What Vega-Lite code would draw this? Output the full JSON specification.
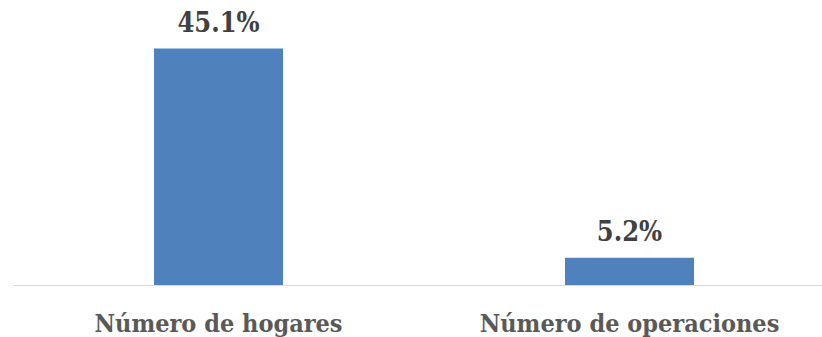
{
  "$schema": "https://vega.github.io/schema/vega-lite/v6.json",
  "autosize": {"type": "none"},
  "padding": {"left": 13, "top": 0, "right": 0, "bottom": 52},
  "width": 822,
  "height": 285,
  "background": "white",
  "config": {"view": {"stroke": null}},
  "data": {"values": [
    {"categoria": "Número de hogares", "valor": 45.1, "etiqueta": "45.1%"},
    {"categoria": "Número de operaciones", "valor": 5.2, "etiqueta": "5.2%"}
  ]},
  "encoding": {
    "x": {
      "field": "categoria", "type": "nominal", "sort": null,
      "scale": {"paddingInner": 0.686, "paddingOuter": 0.343},
      "axis": {
        "title": null, "labelAngle": 0, "ticks": false, "tickSize": 0,
        "labelPadding": 46, "labelBaseline": "alphabetic",
        "labelLimit": 0, "labelOverlap": false,
        "labelFont": "DejaVu Serif Condensed", "labelFontWeight": "bold",
        "labelFontSize": 25, "labelColor": "#595959",
        "domainColor": "#D9D9D9", "domainWidth": 1, "grid": false
      }
    },
    "y": {
      "field": "valor", "type": "quantitative",
      "scale": {"domain": [0, 54.35], "nice": false, "zero": true},
      "axis": null
    }
  },
  "layer": [
    {"mark": {"type": "bar", "color": "#4F81BD"}},
    {
      "mark": {"type": "text", "baseline": "alphabetic", "dy": -17,
        "font": "DejaVu Serif Condensed", "fontWeight": "bold", "fontSize": 27, "color": "#404040"},
      "encoding": {"text": {"field": "etiqueta"}}
    }
  ]
}
